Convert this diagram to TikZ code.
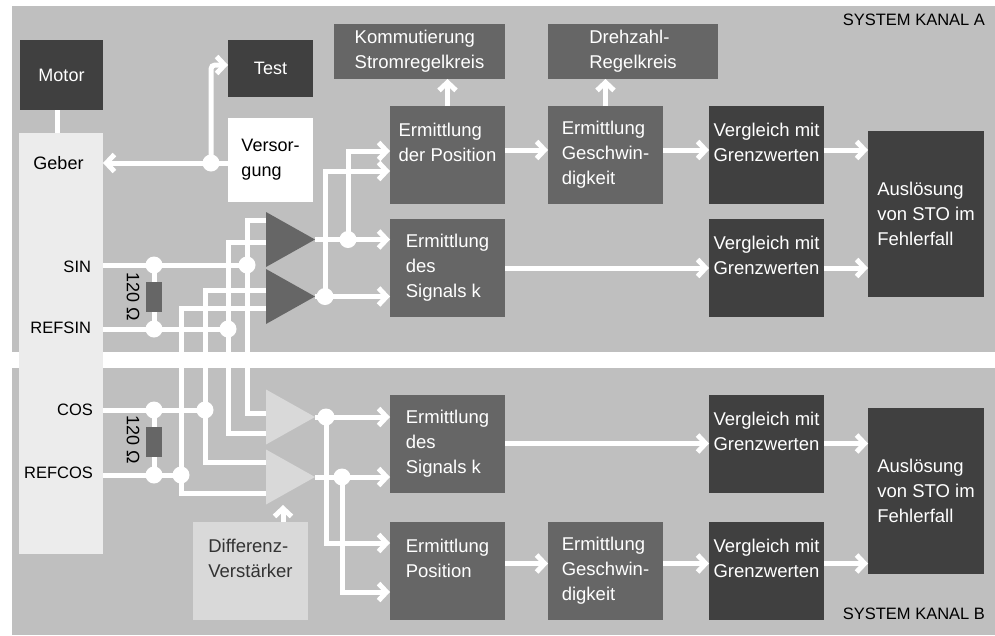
\documentclass[tikz,border=0pt]{standalone}
\usepackage{fontspec}
\setmainfont{Liberation Sans}
\usetikzlibrary{arrows.meta,shapes.geometric}

\definecolor{panel}{RGB}{191,191,191}
\definecolor{geberfill}{RGB}{236,236,236}
\definecolor{boxdark}{RGB}{64,64,64}
\definecolor{boxmid}{RGB}{102,102,102}
\definecolor{boxlight}{RGB}{217,217,217}
\definecolor{textdark}{RGB}{51,51,51}

\begin{document}
\begin{tikzpicture}[x=1pt, y=-1pt]
\tikzset{ >={Straight Barb[length=8pt,width=17pt]}, inner sep=0pt, outer sep=0pt,
  wire/.style={white, line width=5pt},
  dot/.style={circle, fill=white, minimum size=17pt},
  blk/.style={minimum width=115pt, minimum height=98pt, align=left, text=white,
              font=\fontsize{18.5}{25}\selectfont},
  darkblk/.style={blk, fill=boxdark},
  midblk/.style={blk, fill=boxmid},
  amp/.style={isosceles triangle, isosceles triangle stretches, shape border rotate=0,
              minimum width=55pt, minimum height=49pt, anchor=apex},
  res/.style={fill=boxmid, minimum width=16pt, minimum height=30pt},
  lbl/.style={font=\fontsize{16.5}{20}\selectfont},
  big/.style={font=\fontsize{18}{25}\selectfont},
}

%\draw [lightgray, dashed](0,0) grid[step=50] (995,635);

\fill [white] (0,0) rectangle (995,635);
\useasboundingbox (0,0) rectangle (995,635);
\fill [panel] (12,6)   rectangle (995,352);
\fill [panel] (12,368) rectangle (995,635);

\node [anchor=east, font=\fontsize{16.5}{18}\selectfont] (kanA) at (985,20)  {SYSTEM KANAL A};
\node [anchor=east, font=\fontsize{16.5}{18}\selectfont] (kanB) at (985,614) {SYSTEM KANAL B};

% Geber, Versorgung
\node [big, fill=boxdark, text=white, minimum width=83pt, minimum height=70pt] (motor) at (61.5,75) {Motor};
\node [fill=geberfill, minimum width=84pt, minimum height=421pt] (geber) at (61,343.5) {};
\node [big, fill=boxdark, text=white, minimum width=85pt, minimum height=57pt] (test) at (270.5,68.5) {Test};
\node [big, fill=white, minimum width=85pt, minimum height=84pt, align=left] (vers) at (270.5,160) {Versor-\\gung};

\node [big] (gebT) at (58.5,163) {Geber};
\node [lbl, anchor=east] (sinT)    at (91,267) {SIN};
\node [lbl, anchor=east] (refsinT) at (91,328) {REFSIN};
\node [lbl, anchor=east] (cosT)    at (93,410) {COS};
\node [lbl, anchor=east] (refcosT) at (93,473) {REFCOS};

% Kanal A
\node [midblk, minimum width=171pt, minimum height=55pt] (kommA) at (419.5,51.5) {Kommutierung\\Stromregelkreis};
\node [midblk, minimum width=170pt, minimum height=55pt] (drehA) at (633,51.5)   {Drehzahl-\\Regelkreis};
\node [midblk]  (posA)  at (447.5,155) {Ermittlung\\der Position\\\mbox{}};
\node [midblk]  (gesA)  at (605.5,155) {Ermittlung\\Geschwin-\\digkeit};
\node [darkblk] (vglA1) at (766.5,155) {Vergleich mit\\Grenzwerten\\\mbox{}};
\node [midblk]  (sigA)  at (447.5,268) {Ermittlung\\des\\Signals k};
\node [darkblk] (vglA2) at (766.5,268) {Vergleich mit\\Grenzwerten\\\mbox{}};
\node [darkblk, minimum width=116pt, minimum height=166pt] (ausA) at (926,214) {Auslösung\\von STO im\\Fehlerfall};

% Kanal B
\node [midblk]  (sigB)  at (447.5,443.5) {Ermittlung\\des\\Signals k};
\node [darkblk] (vglB1) at (766.5,443.5) {Vergleich mit\\Grenzwerten\\\mbox{}};
\node [midblk]  (posB)  at (447.5,570.5) {Ermittlung\\Position\\\mbox{}};
\node [midblk]  (gesB)  at (605.5,570.5) {Ermittlung\\Geschwin-\\digkeit};
\node [darkblk] (vglB2) at (766.5,570.5) {Vergleich mit\\Grenzwerten\\\mbox{}};
\node [darkblk, minimum width=116pt, minimum height=166pt] (ausB) at (926,490.5) {Auslösung\\von STO im\\Fehlerfall};
\node [blk, fill=boxlight, text=textdark] (diff) at (250.5,571) {Differenz-\\Verstärker\\\mbox{}};

% Verstaerker
\node [amp, fill=boxmid]   (ampA1) at (315,239.5) {};
\node [amp, fill=boxmid]   (ampA2) at (315,296.5) {};
\node [amp, fill=boxlight] (ampB1) at (315,417)   {};
\node [amp, fill=boxlight] (ampB2) at (315,477)   {};

\coordinate (inA1a) at (266,220);
\coordinate (inA1b) at (266,242);
\coordinate (inA2a) at (266,290);
\coordinate (inA2b) at (266,308);
\coordinate (inB1a) at (266,413);
\coordinate (inB1b) at (266,433);
\coordinate (inB2a) at (266,462);
\coordinate (inB2b) at (266,493);

% Knoten
\node [dot] (dVers)    at (211,163) {};
\node [dot] (dSINr)    at (154,265) {};
\node [dot] (dREFSINr) at (154,329) {};
\node [dot] (dCOSr)    at (154,410) {};
\node [dot] (dREFCOSr) at (154,475) {};
\node [dot] (dSIN)     at (247,265) {};
\node [dot] (dREFSIN)  at (228,329) {};
\node [dot] (dCOS)     at (205,410) {};
\node [dot] (dREFCOS)  at (181,475) {};
\node [dot] (dA1) at (348,239.5) {};
\node [dot] (dA2) at (325,296.5) {};
\node [dot] (dB1) at (326,417)   {};
\node [dot] (dB2) at (342,477)   {};

\draw [wire]     ([xshift=-4.5pt]motor.south) -- ([xshift=-4.5pt]motor.south |- geber.north);
\draw [wire, ->] (vers.west |- dVers) -- (geber.east |- dVers);
\draw [wire, ->, rounded corners=4pt] (dVers.center) |- ([yshift=3.5pt]test.west);

\draw [wire] (geber.east |- dSINr)    -- (dSIN.center);
\draw [wire] (geber.east |- dREFSINr) -- (dREFSIN.center);
\draw [wire] (geber.east |- dCOSr)    -- (dCOS.center);
\draw [wire] (geber.east |- dREFCOSr) -- (dREFCOS.center);
\draw [wire] (dSINr.center) -- (dREFSINr.center);
\draw [wire] (dCOSr.center) -- (dREFCOSr.center);

\draw [wire] (inA1a) -| (dSIN.center)    |- (inB1a);
\draw [wire] (inA1b) -| (dREFSIN.center) |- (inB1b);
\draw [wire] (inA2a) -| (dCOS.center)    |- (inB2a);
\draw [wire] (inA2b) -| (dREFCOS.center) |- (inB2b);

\draw [wire, ->] (ampA1.apex) -- (ampA1.apex -| sigA.west);
\draw [wire, ->] (ampA2.apex) -- (ampA2.apex -| sigA.west);
\draw [wire, ->] (ampB1.apex) -- (ampB1.apex -| sigB.west);
\draw [wire, ->] (ampB2.apex) -- (ampB2.apex -| sigB.west);
\draw [wire, ->] (dA1.center) |- ([yshift=4pt]posA.west);
\draw [wire, ->] (dA2.center) |- ([yshift=-16pt]posA.west);
\draw [wire, ->] (dB1.center) |- ([yshift=27.5pt]posB.west);
\draw [wire, ->] (dB2.center) |- ([yshift=-21.5pt]posB.west);

\draw [wire, ->] (posA.north) -- (posA.north |- kommA.south);
\draw [wire, ->] (gesA.north) -- (gesA.north |- drehA.south);
\draw [wire, ->] ([yshift=5pt]posA.east)  -- ([yshift=5pt]posA.east -| gesA.west);
\draw [wire, ->] ([yshift=5pt]gesA.east)  -- ([yshift=5pt]gesA.east -| vglA1.west);
\draw [wire, ->] ([yshift=5pt]vglA1.east) -- ([yshift=5pt]vglA1.east -| ausA.west);
\draw [wire, ->] (sigA.east)  -- (sigA.east -| vglA2.west);
\draw [wire, ->] (vglA2.east) -- (vglA2.east -| ausA.west);

\draw [wire, ->] (sigB.east)  -- (sigB.east -| vglB1.west);
\draw [wire, ->] (vglB1.east) -- (vglB1.east -| ausB.west);
\draw [wire, ->] ([yshift=7pt]posB.east)  -- ([yshift=7pt]posB.east -| gesB.west);
\draw [wire, ->] ([yshift=7pt]gesB.east)  -- ([yshift=7pt]gesB.east -| vglB2.west);
\draw [wire, ->] ([yshift=7pt]vglB2.east) -- ([yshift=7pt]vglB2.east -| ausB.west);
\draw [wire, ->] ([xshift=32.5pt]diff.north) -- ++(0,-17);

% Abschlusswiderstaende
\node [res] (resA) at (154,297) {};
\node [res] (resB) at (154,442) {};
\node [lbl, big, rotate=-90] (ohmA) at (133,297) {120 Ω};
\node [lbl, big, rotate=-90] (ohmB) at (133,440) {120 Ω};
\end{tikzpicture}
\end{document}
